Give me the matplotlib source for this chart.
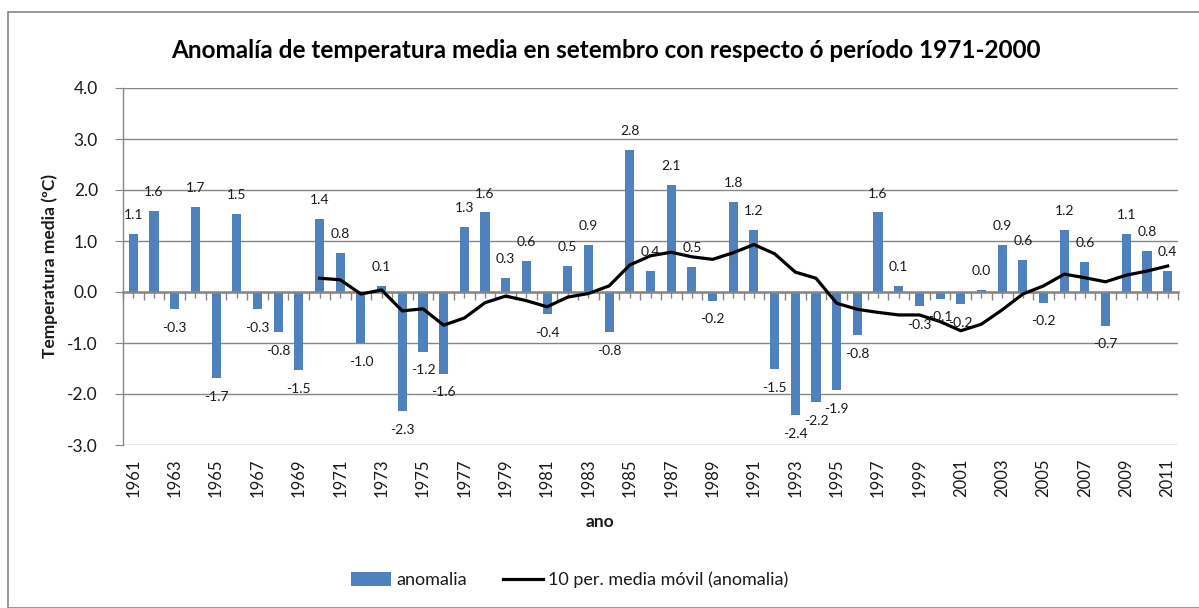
import matplotlib
matplotlib.use("Agg")
import matplotlib.pyplot as plt
from matplotlib.lines import Line2D
from matplotlib.patches import Patch, Rectangle
import numpy as np

plt.rcParams['font.family'] = ['Lato', 'DejaVu Sans']

years = list(range(1961, 2012))
anomalia = [1.14, 1.59, -0.33, 1.67, -1.69, 1.53, -0.33, -0.78, -1.53, 1.43,
            0.76, -1.00, 0.12, -2.34, -1.17, -1.60, 1.28, 1.56, 0.28, 0.61,
            -0.43, 0.51, 0.92, -0.78, 2.79, 0.41, 2.10, 0.49, -0.17, 1.76,
            1.22, -1.51, -2.41, -2.16, -1.92, -0.84, 1.56, 0.12, -0.27, -0.13,
            -0.24, 0.04, 0.92, 0.63, -0.21, 1.22, 0.59, -0.66, 1.14, 0.80,
            0.41]
media_movil_years = list(range(1970, 2012))
media_movil = [0.27, 0.24, -0.04, 0.04, -0.37, -0.33, -0.65, -0.51, -0.21, -0.08,
               -0.17, -0.29, -0.10, -0.03, 0.12, 0.53, 0.71, 0.78, 0.69, 0.64,
               0.77, 0.93, 0.75, 0.39, 0.27, -0.22, -0.34, -0.40, -0.45, -0.45,
               -0.58, -0.76, -0.63, -0.35, -0.04, 0.12, 0.35, 0.28, 0.20, 0.33,
               0.41, 0.51]
title = "Anomalía de temperatura media en setembro con respecto ó período 1971-2000"
ylabel = "Temperatura media (ºC)"
xlabel = "ano"
legend_labels = ["anomalia", "10 per. media móvil (anomalia)"]

W, H = 1199, 608
fig = plt.figure(figsize=(W / 100, H / 100), dpi=100)
# outer chart border
fig.patches.append(Rectangle((8 / W, 0), (W - 8) / W + 0.01, (H - 12) / H,
                             transform=fig.transFigure, fill=False,
                             edgecolor='#868686', linewidth=1.2))

ax = fig.add_axes([123 / W, 1 - 445 / H, (1178 - 123) / W, (445 - 88) / H])

grid_c = '#868686'
bar_c = '#4F81BD'
text_c = '#1a1a1a'

x = np.arange(len(years))
ax.bar(x, anomalia, width=0.44, color=bar_c, zorder=2)
mx = np.array([years.index(y) for y in media_movil_years])
ax.plot(mx, media_movil, color='black', linewidth=2.3, zorder=4,
        solid_joinstyle='round')

for xi, v in zip(x, anomalia):
    off = 13.5 if v >= 0 else -13.5
    ax.annotate(f"{v:.1f}", (xi, v), xytext=(0, off), textcoords='offset points',
                ha='center', va='center', fontsize=10, color=text_c, zorder=5)

ax.set_xlim(-0.5, len(years) - 0.5)
ax.set_ylim(-3, 4)
ax.set_yticks(np.arange(-3, 4.01, 1))
ax.set_yticklabels([f"{t:.1f}" for t in np.arange(-3, 4.01, 1)])
ax.yaxis.grid(True, color=grid_c, linewidth=1.0, zorder=0)
ax.set_axisbelow(True)

for s in ['top', 'right']:
    ax.spines[s].set_visible(False)
ax.spines['left'].set_color(grid_c)
ax.spines['left'].set_linewidth(1.0)
ax.spines['bottom'].set_position(('data', 0))
ax.spines['bottom'].set_color(grid_c)
ax.spines['bottom'].set_linewidth(1.8)
ax.spines['bottom'].set_zorder(3)

ax.tick_params(axis='y', length=6, color=grid_c, labelsize=12.5, labelcolor=text_c, pad=12)
ax.set_xticks(np.arange(-0.5, len(years), 1))
ax.set_xticks(x, minor=True)
ax.tick_params(axis='x', which='major', length=6, color=grid_c, width=1, labelbottom=False)
ax.tick_params(axis='x', which='minor', length=4, color=grid_c, width=1, labelbottom=False)

sec = ax.secondary_xaxis(0.0)
sec.set_xticks(x[::2])
sec.set_xticklabels([str(y) for y in years[::2]], rotation=90)
sec.tick_params(length=0, labelsize=12, labelcolor=text_c, pad=10)
sec.spines['bottom'].set_visible(False)

fig.text(50 / W, 1 - 266 / H, ylabel, fontsize=12.5, fontweight='bold', rotation=90,
         color=text_c, ha='center', va='center')
fig.text(600 / W, 1 - 522 / H, xlabel, fontsize=12.5, fontweight='bold',
         color=text_c, ha='center', va='center')
fig.text(606 / W, 1 - 50 / H, title, fontsize=17.5, fontweight='bold',
         color='black', ha='center', va='center')

handles = [Patch(facecolor=bar_c, edgecolor='none'),
           Line2D([0], [0], color='black', linewidth=2.3)]
fig.legend(handles, legend_labels, loc='center', bbox_to_anchor=(570 / W, 1 - 580 / H),
           ncol=2, frameon=False, fontsize=13, handlelength=2.2, handleheight=0.8,
           columnspacing=2.0, handletextpad=0.3, labelcolor=text_c)

fig.savefig("out.png", dpi=100)
